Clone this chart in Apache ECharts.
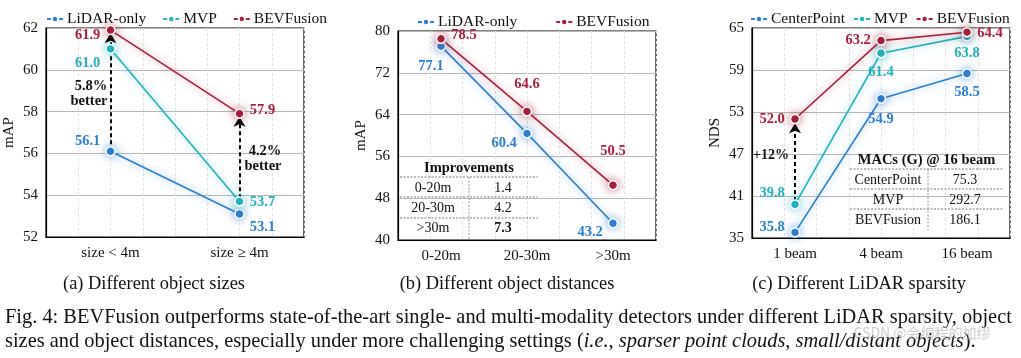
<!DOCTYPE html>
<html><head><meta charset="utf-8">
<script src="https://cdn.jsdelivr.net/npm/echarts@6/dist/echarts.min.js"></script>
<style>html,body{margin:0;padding:0;background:#fff}#c{width:1021px;height:358px}</style>
</head><body><div id="c"></div>
<script>
// ---- data ----
const catsA = ['size < 4m', 'size \u2265 4m'];
const lidarA = [56.1, 53.1];
const mvpA = [61.0, 53.7];
const bevA = [61.9, 57.9];

const catsB = ['0-20m', '20-30m', '>30m'];
const lidarB = [77.1, 60.4, 43.2];
const bevB = [78.5, 64.6, 50.5];

const catsC = ['1 beam', '4 beam', '16 beam'];
const centerC = [35.8, 54.9, 58.5];
const mvpC = [39.8, 61.4, 63.8];
const bevC = [52.0, 63.2, 64.4];

const ticksA = {min: 52, max: 62, interval: 2};
const ticksB = {min: 40, max: 80, interval: 8};
const ticksC = {min: 35, max: 65, interval: 6};

const tableBHead = 'Improvements';
const tableBRows = [['0-20m', '1.4'], ['20-30m', '4.2'], ['>30m', '7.3']];
const tableCHead = 'MACs (G) @ 16 beam';
const tableCRows = [['CenterPoint', '75.3'], ['MVP', '292.7'], ['BEVFusion', '186.1']];

// ---- style ----
const BLUE = '#2a80d2', TEAL = '#1db3bf', RED = '#a91f3b';
const F = '"Liberation Serif", "Times New Roman", serif';
const grids = [
  {left: 46, top: 28, width: 258, height: 209},
  {left: 398, top: 31, width: 258, height: 209},
  {left: 752, top: 28, width: 258, height: 210}
];

function rgba(hex, a) {
  const n = parseInt(hex.slice(1), 16);
  return `rgba(${n >> 16},${(n >> 8) & 255},${n & 255},${a})`;
}
function withLabels(vals, pos) {
  return vals.map((v, i) => ({value: v, label: Object.assign({show: true}, pos[i])}));
}
function line(name, color, gi, vals, pos, extra) {
  return Object.assign({
    name, type: 'line', xAxisIndex: gi, yAxisIndex: gi,
    data: withLabels(vals, pos),
    symbol: 'circle', symbolSize: 9, z: 5,
    itemStyle: {color, borderColor: '#fff', borderWidth: 1.5, shadowBlur: 8, shadowColor: rgba(color, 0.6)},
    lineStyle: {color, width: 1.6, shadowBlur: 8, shadowColor: rgba(color, 0.55)},
    label: {color, fontFamily: F, fontWeight: 'bold', fontSize: 14.5, distance: 5,
            formatter: p => Number(p.value).toFixed(1)},
    emphasis: {disabled: true}
  }, extra || {});
}
function arrow(gi, x, y0, y1) {
  return {
    symbol: ['none', 'arrow'], symbolSize: [9, 10], silent: true, animation: false,
    lineStyle: {color: '#000', type: [4, 3], width: 2},
    label: {show: false},
    data: [[{coord: [x, y0]}, {coord: [x, y1]}]]
  };
}

const xCat = (gi, cats) => ({
  type: 'category', gridIndex: gi, data: cats, boundaryGap: true,
  axisLine: {show: true, lineStyle: {color: '#000', width: 1.2}},
  axisTick: {show: false},
  axisLabel: {fontFamily: F, fontSize: 15, color: '#111', margin: 9},
  splitLine: {show: false}
});
const xMinor = (gi) => ({
  type: 'value', gridIndex: gi, min: 0, max: 8, interval: 1, show: true,
  axisLine: {show: false}, axisTick: {show: false}, axisLabel: {show: false},
  splitLine: {show: true, lineStyle: {color: '#e2e2e2', type: [3, 2], width: 1}}
});
const yVal = (gi, t, name, gap) => ({
  type: 'value', gridIndex: gi, min: t.min, max: t.max, interval: t.interval,
  name, nameLocation: 'middle', nameGap: gap, nameRotate: 90,
  nameTextStyle: {fontFamily: F, fontSize: 15, color: '#111'},
  axisLine: {show: true, lineStyle: {color: '#000', width: 1.2}},
  axisTick: {show: false},
  axisLabel: {fontFamily: F, fontSize: 15, color: '#111', margin: 8},
  splitLine: {show: true, lineStyle: {color: '#b8b8b8', width: 1}}
});

const L = (p, extra) => Object.assign({position: p}, extra || {});

const series = [
  line('LiDAR-only', BLUE, 0, lidarA, [L('left', {offset: [0, -10]}), L('right', {offset: [0, 13]})],
       {markLine: arrow(0, 0, lidarA[0], bevA[0] - 0.15)}),
  line('MVP', TEAL, 0, mvpA, [L('left', {offset: [0, 14]}), L('right', {offset: [0, 1]})],
       {markLine: arrow(0, 1, mvpA[1] + 0.15, bevA[1] - 0.15)}),
  line('BEVFusion', RED, 0, bevA, [L('left', {offset: [0, 5]}), L('right', {offset: [0, -3]})]),

  line('LiDAR-only', BLUE, 1, lidarB, [L('bottom', {offset: [-10, 2]}), L('left', {offset: [0, 10]}), L('left', {offset: [0, 9]})]),
  line('BEVFusion', RED, 1, bevB, [L('right', {offset: [0, -4]}), L('top', {distance: 14}), L('top', {distance: 21})]),

  line('CenterPoint', BLUE, 2, centerC, [L('left', {offset: [0, -5]}), L('bottom', {distance: 8}), L('bottom', {distance: 6})]),
  line('MVP', TEAL, 2, mvpC, [L('left', {offset: [0, -11]}), L('bottom', {distance: 6}), L('bottom', {distance: 4})],
       {markLine: arrow(2, 0, mvpC[0] + 0.5, bevC[0] - 0.6)}),
  line('BEVFusion', RED, 2, bevC, [L('left', {offset: [0, 0]}), L('left', {offset: [0, 0]}), L('right', {offset: [0, 1]})])
];

const legendBase = {
  itemWidth: 16, itemHeight: 8, itemGap: 16, width: 330,
  textStyle: {fontFamily: F, fontSize: 15.5, color: '#111', padding: [0, 0, 0, -1]},
  selectedMode: false
};
const legends = [
  Object.assign({}, legendBase, {data: ['LiDAR-only', 'MVP', 'BEVFusion'], left: 41, top: 6}),
  Object.assign({}, legendBase, {data: ['LiDAR-only', 'BEVFusion'], left: 412, top: 9, itemGap: 38}),
  Object.assign({}, legendBase, {data: ['CenterPoint', 'MVP', 'BEVFusion'], left: 745, top: 6, itemGap: 8})
];

function txt(x, y, text, opts) {
  return {type: 'text', x, y, silent: true, z: 20, style: Object.assign({
    text, fontFamily: F, fontSize: 14, fill: '#111', align: 'center', verticalAlign: 'middle'
  }, opts || {})};
}
function hline(x1, x2, y) {
  return {type: 'line', silent: true, z: 20, shape: {x1, y1: y, x2, y2: y},
          style: {stroke: '#555', lineWidth: 0.8, lineDash: [2, 1.5]}};
}
function vline(x, y1, y2) {
  return {type: 'line', silent: true, z: 20, shape: {x1: x, y1, x2: x, y2},
          style: {stroke: '#777', lineWidth: 0.8, lineDash: [2, 1.5]}};
}
function table(head, rows, x1, x2, xmid, c1, c2, yHead, yLines, yRows, vEnd) {
  const g = [txt((x1 + x2) / 2, yHead, head, {fontWeight: 'bold', fontSize: 14.5})];
  yLines.forEach(y => g.push(hline(x1, x2, y)));
  g.push(vline(xmid, yLines[0], vEnd));
  rows.forEach((r, i) => {
    g.push(txt(c1, yRows[i], r[0]));
    g.push(txt(c2, yRows[i], r[1], i === rows.length - 1 && head === tableBHead ? {fontWeight: 'bold'} : {}));
  });
  return g;
}

const CAP = 20.4;
const graphics = [].concat(
  // annotations
  txt(91, 86, '5.8%', {fontWeight: 'bold', fontSize: 14.5}),
  txt(89, 101, 'better', {fontWeight: 'bold', fontSize: 14.5}),
  txt(265, 151, '4.2%', {fontWeight: 'bold', fontSize: 14.5}),
  txt(263, 166, 'better', {fontWeight: 'bold', fontSize: 14.5}),
  txt(771, 155, '+12%', {fontWeight: 'bold', fontSize: 14}),
  // tables
  table(tableBHead, tableBRows, 400, 538, 469, 433, 503, 168, [177, 197, 218], [188, 208, 228], 240),
  table(tableCHead, tableCRows, 850, 1003, 928, 888, 965, 160, [169, 189, 209], [180, 200, 220], 230),
  // subtitles
  txt(154, 284, '(a) Different object sizes', {fontSize: 18.4}),
  txt(507, 284, '(b) Different object distances', {fontSize: 18.4}),
  txt(859, 284, '(c) Different LiDAR sparsity', {fontSize: 18.4}),
  // caption
  {type: 'text', x: 5, y: 318, silent: true, style: {
    text: 'Fig. 4: BEVFusion outperforms state-of-the-art single- and multi-modality detectors under different LiDAR sparsity, object',
    fontFamily: F, fontSize: CAP, fill: '#111', align: 'left', verticalAlign: 'middle'}},
  {type: 'text', x: 5, y: 342, silent: true, style: {
    text: 'sizes and object distances, especially under more challenging settings ({i|i.e.}, {i|sparser point clouds}, {i|small/distant objects}).',
    fontFamily: F, fontSize: CAP, fill: '#111', align: 'left', verticalAlign: 'middle',
    rich: {i: {fontFamily: F, fontSize: CAP, fontStyle: 'italic', fill: '#111'}}}},
  // watermark
  txt(922, 333, 'CSDN @会编程的加缪', {fontFamily: '"Noto Sans CJK SC", sans-serif', fontSize: 14, fill: 'rgba(170,170,170,0.6)'})
);

const chart = echarts.init(document.getElementById('c'), null, {renderer: 'canvas'});
chart.setOption({
  animation: false,
  backgroundColor: '#fff',
  legend: legends,
  grid: grids.map(g => Object.assign({show: true, borderColor: '#000', borderWidth: 1.2, backgroundColor: 'transparent'}, g)),
  xAxis: [xCat(0, catsA), xCat(1, catsB), xCat(2, catsC), xMinor(0), xMinor(1), xMinor(2)],
  yAxis: [yVal(0, ticksA, 'mAP', 29), yVal(1, ticksB, 'mAP', 29), yVal(2, ticksC, 'NDS', 29)],
  series,
  graphic: graphics
});
</script></body></html>
